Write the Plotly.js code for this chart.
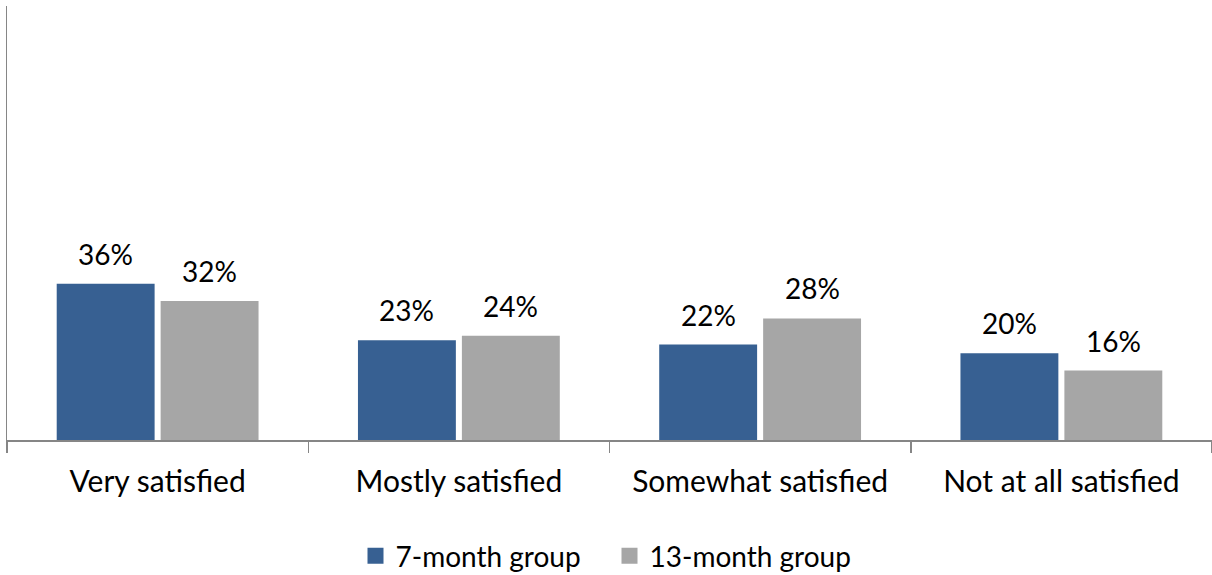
<!DOCTYPE html>
<html>
<head>
<meta charset="utf-8">
<script src="https://cdn.plot.ly/plotly-3.0.1.min.js"></script>
<style>html,body{margin:0;padding:0;background:#fff;}#chart{width:1212px;height:575px;}</style>
</head>
<body>
<div id="chart"></div>
<script>
const categories = ["Very satisfied", "Mostly satisfied", "Somewhat satisfied", "Not at all satisfied"];
const seriesNames = ["7-month group", "13-month group"];
const group7 = [36, 23, 22, 20];
const group13 = [32, 24, 28, 16];
const colors = ["#376092", "#A6A6A6"];

const FONT = "Lato, 'Liberation Sans', sans-serif";
const W = 1212, H = 575;
const margin = {l: 7, r: 0, t: 6, b: 135};
const bargap = 0.31, bargroupgap = 0.058;

const seriesVals = [group7, group13];
const traces = seriesVals.map((vals, i) => ({
  type: "bar",
  x: categories,
  y: vals,
  name: seriesNames[i],
  showlegend: false,
  marker: {color: colors[i]},
  hoverinfo: "skip"
}));
// legend proxies (bigger square symbols)
seriesNames.forEach((n, i) => traces.push({
  type: "scatter", mode: "markers", x: [null], y: [null], name: n,
  marker: {symbol: "square", size: 16, color: colors[i]}, hoverinfo: "skip"
}));

const plotW = W - margin.l - margin.r;
const catW = plotW / categories.length;
const slot = catW * (1 - bargap) / 2;
const annotations = [];
seriesVals.forEach((vals, i) => {
  vals.forEach((v, j) => {
    annotations.push({
      x: categories[j], y: v, xref: "x", yref: "y",
      text: v + "%", showarrow: false,
      xshift: (i === 0 ? -1 : 1) * slot / 2,
      yshift: 30, yanchor: "middle",
      font: {family: FONT, size: 28, color: "#000"}
    });
  });
});

const layout = {
  width: W, height: H,
  margin: margin,
  paper_bgcolor: "#fff", plot_bgcolor: "#fff",
  barmode: "group", bargap: bargap, bargroupgap: bargroupgap,
  font: {family: FONT, size: 28, color: "#000"},
  xaxis: {
    type: "category",
    showline: true, linecolor: "#868686", linewidth: 1.5,
    ticks: "outside", tickson: "boundaries", ticklen: 11, tickcolor: "#868686", tickwidth: 1.5,
    ticklabelstandoff: 14,
    showgrid: false, zeroline: false,
    tickfont: {family: FONT, size: 30, color: "#000"},
    fixedrange: true, automargin: false
  },
  yaxis: {
    range: [0, 100],
    showline: true, linecolor: "#868686", linewidth: 1.5,
    showticklabels: false, ticks: "", showgrid: false, zeroline: false,
    fixedrange: true, automargin: false
  },
  showlegend: true,
  legend: {
    orientation: "h", x: 0.5, xanchor: "center",
    yref: "container", y: 19 / 575, yanchor: "middle",
    font: {family: FONT, size: 28, color: "#000"},
    itemwidth: 30, tracegroupgap: 0,
    entrywidth: 209, entrywidthmode: "pixels"
  },
  annotations: annotations
};

Plotly.newPlot("chart", traces, layout, {displayModeBar: false, staticPlot: true});
</script>
</body>
</html>
